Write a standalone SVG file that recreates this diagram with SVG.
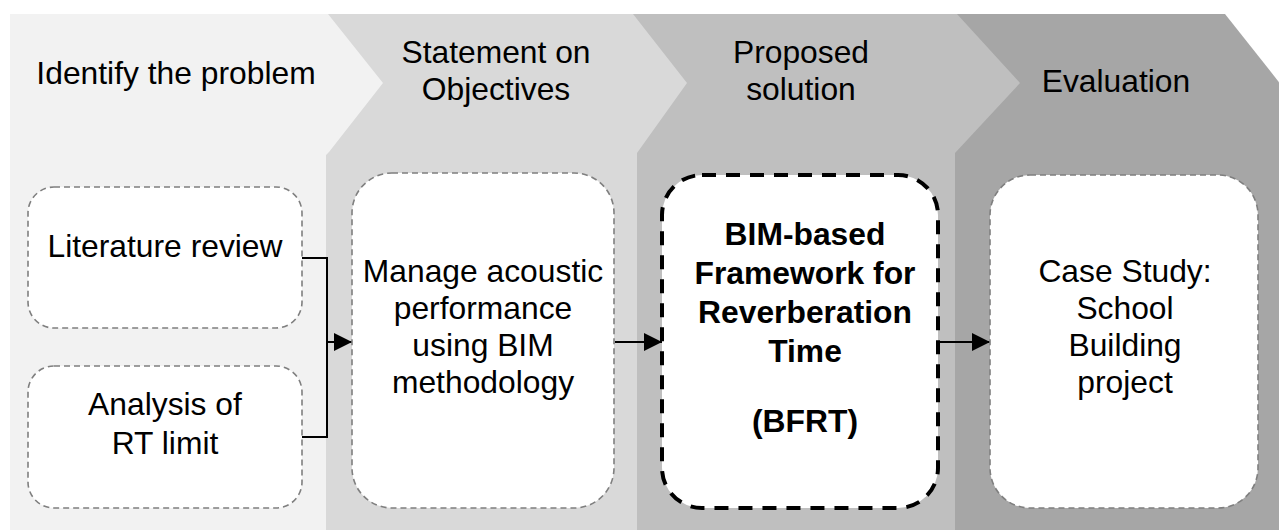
<svg xmlns="http://www.w3.org/2000/svg" width="1279" height="530" viewBox="0 0 1279 530">
<defs>
<marker id="arr" viewBox="0 0 10 10" refX="10" refY="5" markerWidth="18" markerHeight="18" markerUnits="userSpaceOnUse" orient="auto">
<path d="M0,0 L10,5 L0,10 z" fill="#000"/>
</marker>
</defs>
<style>
text{font-family:"Liberation Sans",Arial,sans-serif;font-size:31.8px;fill:#000;text-anchor:middle}
.b{font-weight:bold}
.box{fill:#fff;stroke:#7f7f7f;stroke-width:1.6;stroke-dasharray:6 4}
.bold{fill:#fff;stroke:#000;stroke-width:4;stroke-dasharray:14 10}
.conn{fill:none;stroke:#000;stroke-width:2}
</style>
<rect width="1279" height="530" fill="#fff"/>
<g id="bands">
<polygon points="900,14 1225,14 1282,86 1282,530 900,530" fill="#a6a6a6"/>
<polygon points="620,14 957,14 1020,83 955,153 955,530 620,530" fill="#bfbfbf"/>
<polygon points="320,14 633,14 687,83 637,153 637,530 320,530" fill="#d9d9d9"/>
<polygon points="10,14 328,14 383,83 329,152 326,155 326,530 10,530" fill="#f2f2f2"/>
</g>
<g id="headers">
<text x="176" y="84">Identify the problem</text>
<text x="496" y="63">Statement on</text>
<text x="496" y="100">Objectives</text>
<text x="801" y="63">Proposed</text>
<text x="801" y="100">solution</text>
<text x="1116" y="92">Evaluation</text>
</g>
<g id="connectors">
<polyline class="conn" points="302,258 327,258 327,437 302,437"/>
<line class="conn" x1="327" y1="342" x2="352" y2="342" marker-end="url(#arr)"/>
<line class="conn" x1="615" y1="342" x2="662" y2="342" marker-end="url(#arr)"/>
<line class="conn" x1="939" y1="342" x2="990" y2="342" marker-end="url(#arr)"/>
</g>
<g id="n1">
<rect class="box" x="28" y="187" width="274" height="141" rx="26"/>
<text x="165" y="257">Literature review</text>
</g>
<g id="n2">
<rect class="box" x="28" y="366" width="274" height="142" rx="26"/>
<text x="165" y="415">Analysis of</text>
<text x="165" y="454">RT limit</text>
</g>
<g id="n3">
<rect class="box" x="352" y="173" width="262" height="335" rx="40"/>
<text x="483" y="282">Manage acoustic</text>
<text x="483" y="319">performance</text>
<text x="483" y="356">using BIM</text>
<text x="483" y="393">methodology</text>
</g>
<g id="n4">
<rect class="bold" x="662" y="175" width="276" height="333" rx="40"/>
<text class="b" x="805" y="245">BIM-based</text>
<text class="b" x="805" y="284">Framework for</text>
<text class="b" x="805" y="323">Reverberation</text>
<text class="b" x="805" y="362">Time</text>
<text class="b" x="805" y="432">(BFRT)</text>
</g>
<g id="n5">
<rect class="box" x="990" y="175" width="268" height="333" rx="40"/>
<text x="1125" y="282">Case Study:</text>
<text x="1125" y="319">School</text>
<text x="1125" y="356">Building</text>
<text x="1125" y="393">project</text>
</g>
</svg>
